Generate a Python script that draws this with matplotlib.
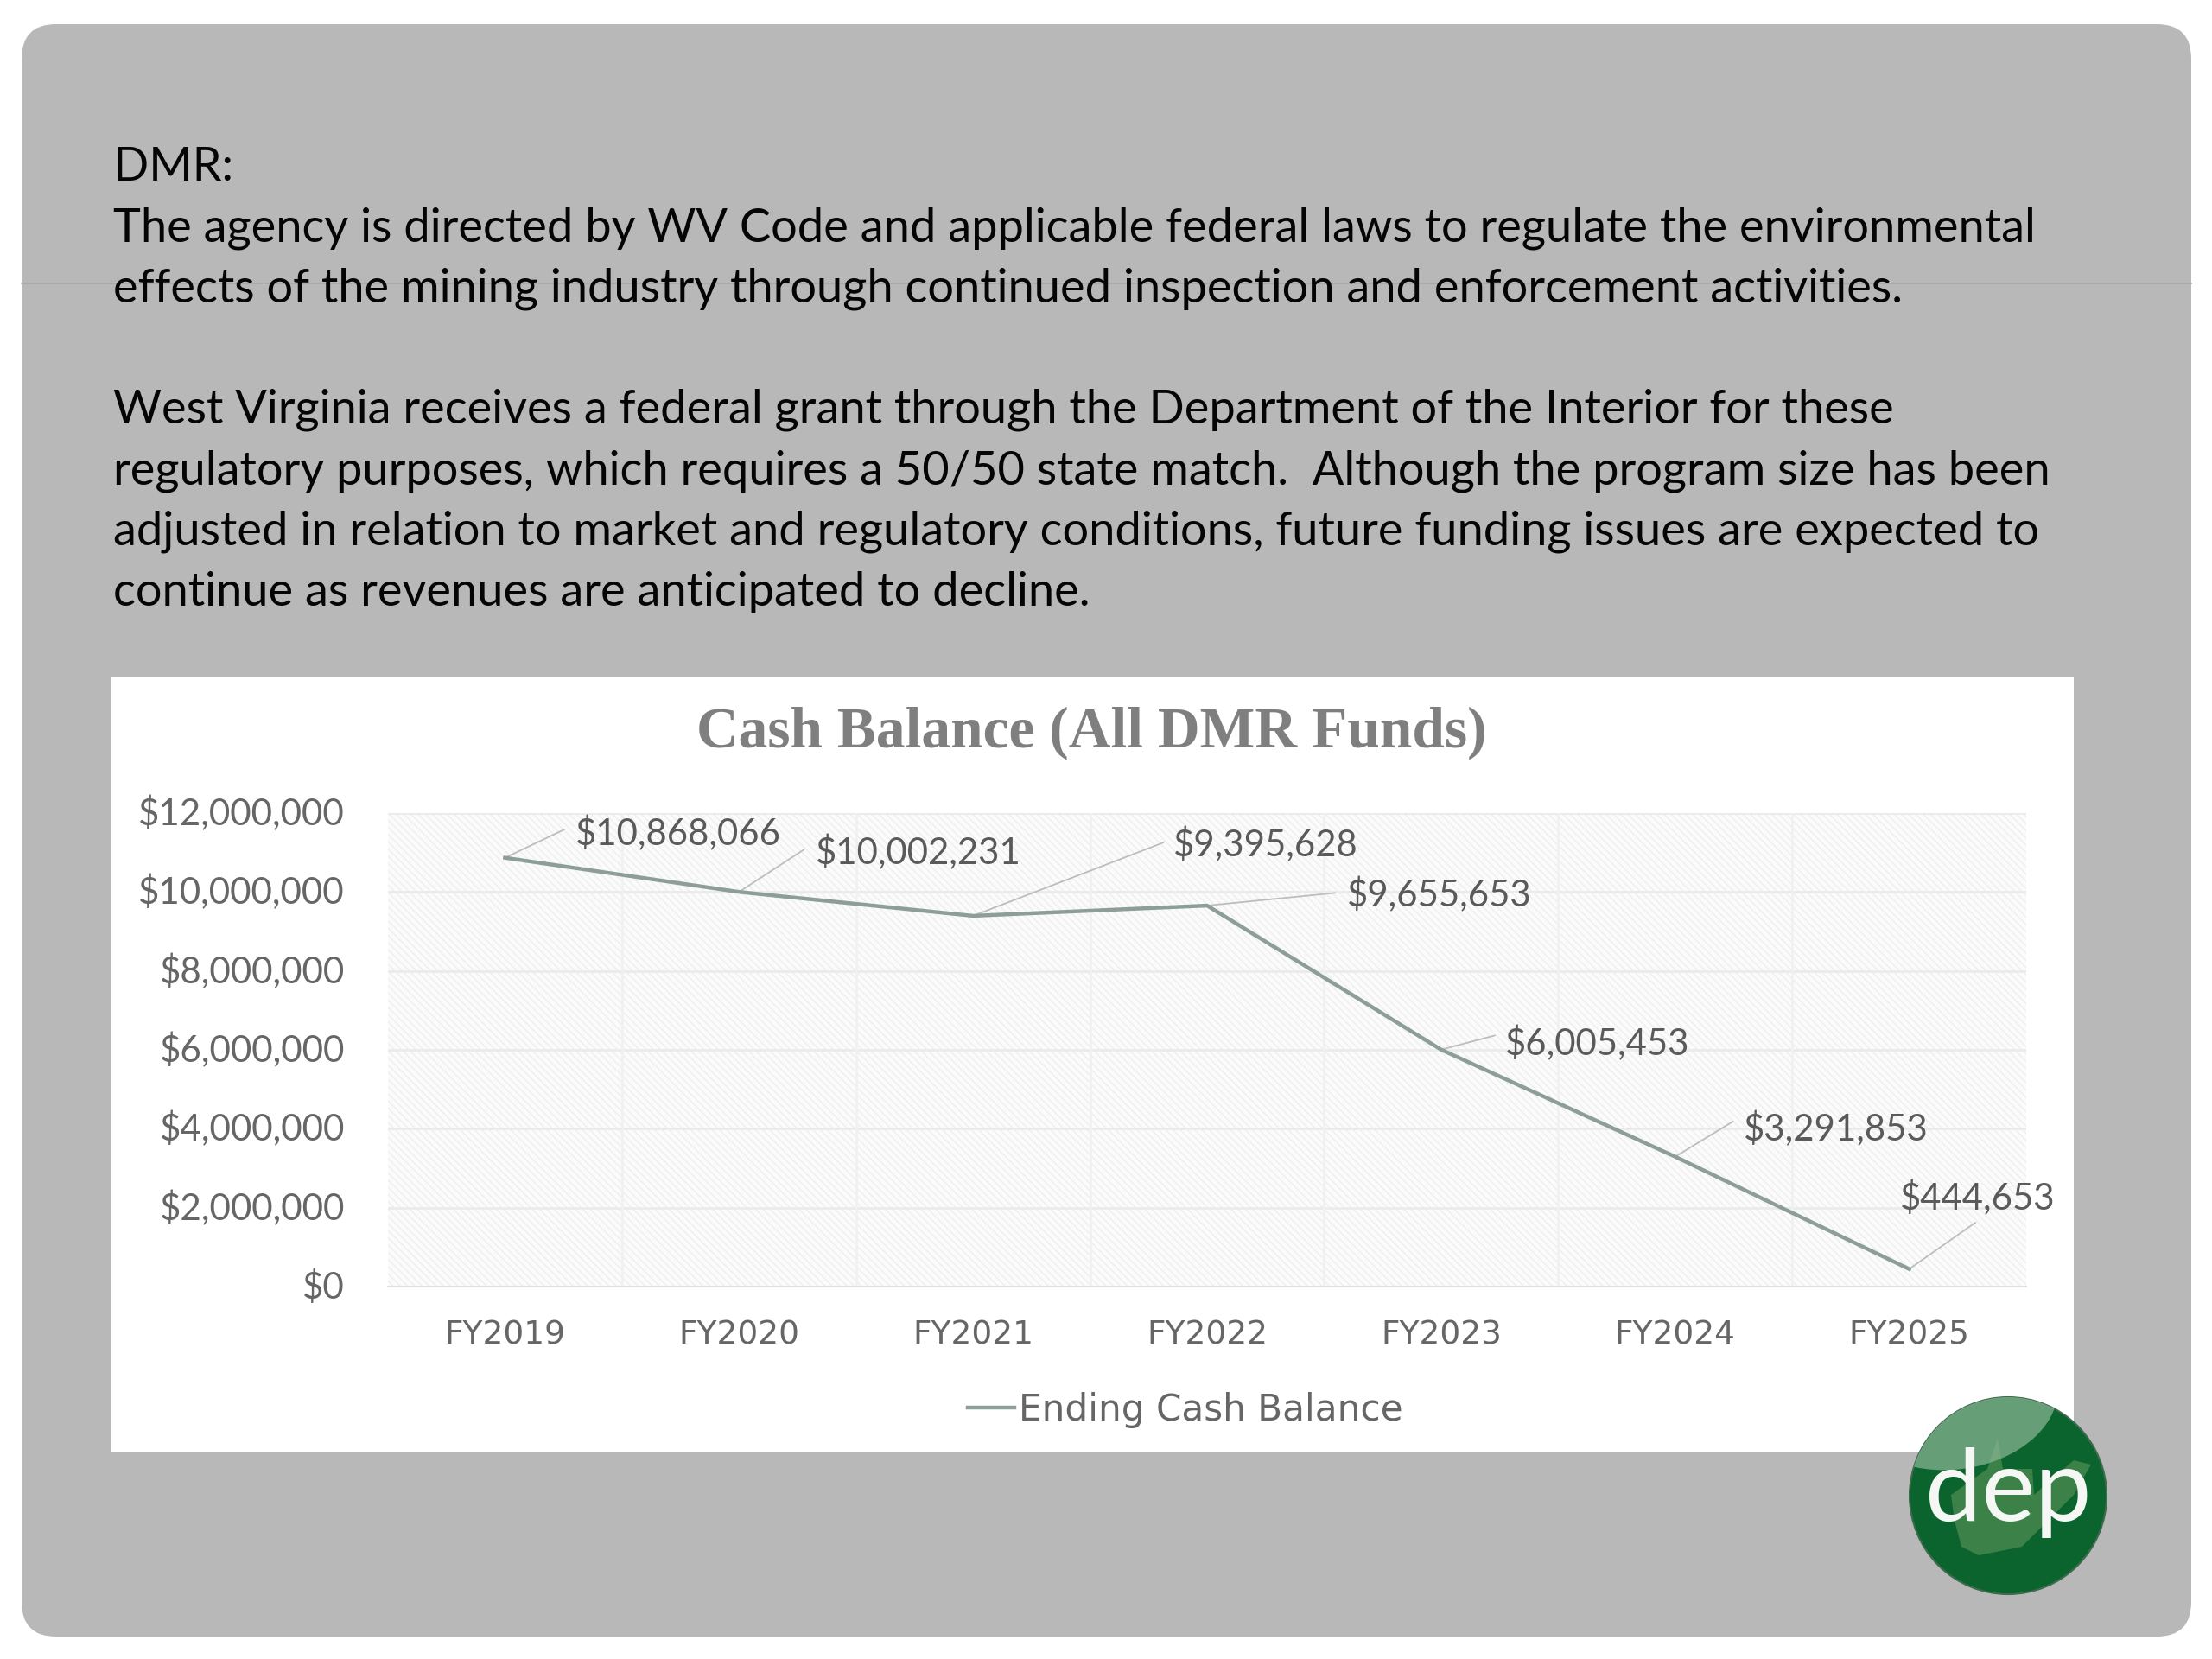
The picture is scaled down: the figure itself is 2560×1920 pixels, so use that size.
import matplotlib
matplotlib.use("Agg")
import matplotlib.pyplot as plt
from matplotlib.patches import FancyBboxPatch, Rectangle, Circle, Ellipse, Polygon
from matplotlib.ticker import FuncFormatter
from matplotlib.transforms import ScaledTranslation, IdentityTransform

years = ["FY2019", "FY2020", "FY2021", "FY2022", "FY2023", "FY2024", "FY2025"]
balance = [10868066, 10002231, 9395628, 9655653, 6005453, 3291853, 444653]
yticks = [0, 2000000, 4000000, 6000000, 8000000, 10000000, 12000000]
title = "Cash Balance (All DMR Funds)"
series_name = "Ending Cash Balance"
body_lines = [
    "DMR:",
    "The agency is directed by WV Code and applicable federal laws to regulate the environmental",
    "effects of the mining industry through continued inspection and enforcement activities.",
    "West Virginia receives a federal grant through the Department of the Interior for these",
    "regulatory purposes, which requires a 50/50 state match.  Although the program size has been",
    "adjusted in relation to market and regulatory conditions, future funding issues are expected to",
    "continue as revenues are anticipated to decline.",
]

S = 2560 / 1568
body_base = [128, 171, 214, 300, 343, 386, 429.5]
# leader end and label anchor, as offsets from each point in overview pixels
leader_dx = [42, 46, 135, 91, 38, 41, 47]
leader_dy = [-20, -30, -52, -9, -10, -25, -33]
label_x = [408, 578, 832, 955, 1067, 1236, 1347]
label_y = [590.5, 604.5, 598.5, 634.5, 739.5, 800.5, 849.5]

plt.rcParams["hatch.linewidth"] = 0.9
fig = plt.figure(figsize=(25.6, 19.2), dpi=100, facecolor="white")
bg = fig.add_axes([0, 0, 1, 1])
bg.set_xlim(0, 2560)
bg.set_ylim(1920, 0)
bg.axis("off")

L, R, T, B = 25, 2536, 28, 1894
bg.add_patch(FancyBboxPatch((L + 40, T + 40), R - L - 80, B - T - 80,
                            boxstyle="round,pad=40,rounding_size=40",
                            fc="#b8b8b8", ec="none"))
bg.plot([L, R], [328, 328], color="#a8a8a8", lw=1.2)

for line, y in zip(body_lines, body_base):
    bg.text(131, y * S, line, fontsize=39, family="Lato", color="#050505", va="baseline", ha="left")

bg.add_patch(Rectangle((129, 784), 2271, 896, fc="white", ec="none"))
bg.text(1263, 848, title, family="Liberation Serif", weight="bold", fontsize=48.6,
        color="#7f7f7f", ha="center", va="center")

ax = fig.add_axes([449 / 2560, 1 - 1489 / 1920, (2345 - 449) / 2560, (1489 - 941) / 1920])
ax.set_facecolor("#fbfbfb")
ax.patch.set_hatch("\\\\\\\\")
ax.patch.set_edgecolor("#ededed")
ax.set_xlim(-0.5, 6.5)
ax.set_ylim(0, 12000000)
ax.set_yticks(yticks)
ax.yaxis.set_major_formatter(FuncFormatter(lambda v, _: f"${v:,.0f}"))
ax.set_xticks(range(len(years)))
ax.set_xticklabels(years)
ax.tick_params(length=0)
ax.tick_params(axis="y", labelsize=30.3, labelcolor="#666666", pad=36)
ax.tick_params(axis="x", labelsize=27, labelcolor="#666666", pad=28)
up = ScaledTranslation(0, 3 / 100, fig.dpi_scale_trans)
for lab in ax.get_yticklabels():
    lab.set_family("Lato")
    lab.set_transform(lab.get_transform() + up)
for lab in ax.get_xticklabels():
    lab.set_family("DejaVu Sans")
for s in ["top", "left", "right"]:
    ax.spines[s].set_visible(False)
ax.spines["bottom"].set_color("#e0e0e0")
ax.spines["bottom"].set_linewidth(1.5)
ax.grid(axis="y", color="#ebebeb", lw=2)
ax.set_axisbelow(True)
for k in range(1, 7):
    ax.axvline(k - 0.5, color="#f1f1f1", lw=2, zorder=1)

line, = ax.plot(range(len(years)), balance, color="#8d9e98", lw=3.2, label=series_name, zorder=3,
                solid_joinstyle="round")

for i, v in enumerate(balance):
    ax.annotate("", xy=(i, v), xycoords="data",
                xytext=(leader_dx[i] * S, -leader_dy[i] * S), textcoords="offset pixels",
                arrowprops=dict(arrowstyle="-", color="#bdbdbd", lw=1.3, shrinkA=0, shrinkB=0), zorder=2)
    ax.text(label_x[i] * S, label_y[i] * S, f"${v:,.0f}", transform=bg.transData, family="Lato",
            fontsize=30.2, color="#5a5a5a", ha="left", va="center", zorder=5, clip_on=False)

ax.legend(handles=[line], loc="center", bbox_to_anchor=(840 * S, 1920 - 999.5 * S),
          bbox_transform=IdentityTransform(), frameon=False,
          prop={"family": "DejaVu Sans", "size": 30.3}, labelcolor="#666666",
          handlelength=1.3, handletextpad=0.1)

# logo
cx, cy, rx = 2324, 1731, 114
bg2 = fig.add_axes([0, 0, 1, 1], facecolor="none")
bg2.set_xlim(0, 2560)
bg2.set_ylim(1920, 0)
bg2.axis("off")
disc = Circle((cx, cy), rx, fc="#0b642d", ec="#3d6b4d", lw=1.5, zorder=6)
bg2.add_patch(disc)
state = Polygon([(2262, 1760), (2258, 1730), (2300, 1700), (2312, 1665), (2318, 1700), (2352, 1700),
                 (2354, 1730), (2400, 1690), (2420, 1695), (2400, 1730), (2370, 1760), (2340, 1790),
                 (2290, 1800), (2270, 1790)], fc="#3b8148", ec="none", zorder=7)
bg2.add_patch(state)
state.set_clip_path(disc)
gloss = Ellipse((2262, 1618), 240, 165, angle=-8, fc="#8db897", ec="none", alpha=0.7, zorder=8)
bg2.add_patch(gloss)
gloss.set_clip_path(disc)
bg2.text(cx, cy - 4, "dep", family="Lato", weight="normal", fontsize=84, color="#f4f7f3",
         ha="center", va="center", zorder=9)

fig.savefig("out.png", dpi=100, facecolor="white")
